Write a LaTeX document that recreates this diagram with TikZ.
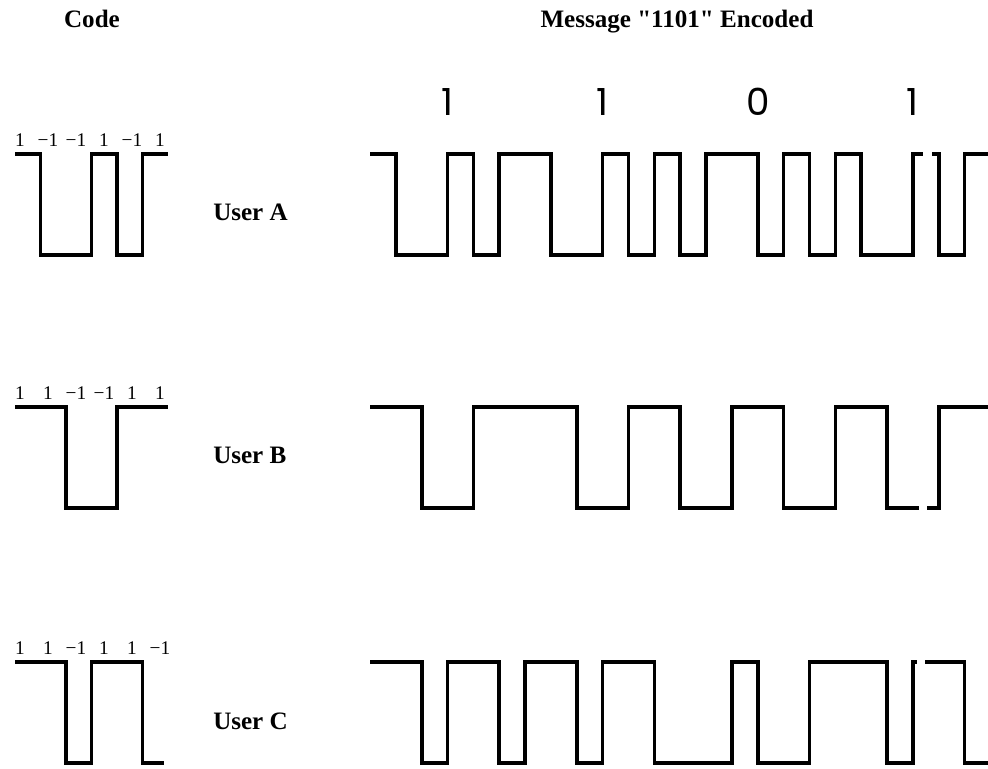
\documentclass[tikz,border=0pt]{standalone}
\usepackage{fontspec}
\setmainfont{Liberation Serif}
\newfontfamily\bitfont{Poppins}

\begin{document}
\begin{tikzpicture}[
    x=0.75pt, y=-0.75pt,
    % Text styles
    header/.style={font=\fontsize{18.8}{22}\selectfont\bfseries, anchor=base, inner sep=0pt},
    userlabel/.style={font=\fontsize{18.8}{22}\selectfont\bfseries, anchor=base west, inner sep=0pt},
    codelabel/.style={font=\fontsize{14.5}{16}\selectfont, anchor=base, inner sep=0pt},
    bitlabel/.style={font=\bitfont\fontsize{28}{32}\selectfont, anchor=base, inner sep=0pt},
    % Line styles
    wave/.style={line width=2.7pt, line join=miter},
]

    \useasboundingbox (0,0) rectangle (988,768);

    % Headers
    \node[header] (code) at (92,27) {Code};
    \node[header] (msg) at (677,27) {Message \textquotedbl1101\textquotedbl{} Encoded};

    % Message bits
    \foreach \b [count=\i] in {1,1,0,1}
        \node[bitlabel] (bit\i) at ({370+25.85*(6*\i-3)},115) {\b};

    % Chip values of each code
    \foreach \c [count=\i] in {1,−1,−1,1,−1,1}
        \node[codelabel] (ca\i) at ({20+28*(\i-1)},146) {\c};
    \foreach \c [count=\i] in {1,1,−1,−1,1,1}
        \node[codelabel] (cb\i) at ({20+28*(\i-1)},399) {\c};
    \foreach \c [count=\i] in {1,1,−1,1,1,−1}
        \node[codelabel] (cc\i) at ({20+28*(\i-1)},654) {\c};

    % Users
    \node[userlabel] (usera) at (213,220) {User A};
    \node[userlabel] (userb) at (213,463) {User B};
    \node[userlabel] (userc) at (213,729) {User C};

    % Code waveforms (one unit = one chip)
    \begin{scope}[shift={(15,0)}, x=19.125pt]
        \draw[wave] (0,154) -| (1,255) -| (3,154) -| (4,255) -| (5,154) -- (6,154);
        \draw[wave] (0,407) -| (2,508) -| (4,407) -- (6,407);
        \draw[wave] (0,662) -| (2,763) -| (3,662) -| (5,763) -- (5.85,763);
    \end{scope}

    % Encoded waveforms
    \begin{scope}[shift={(370,0)}, x=19.3875pt]
        % User A
        \draw[wave] (0,154) -| (1,255) -| (3,154) -| (4,255) -| (5,154) -| (7,255)
            -| (9,154) -| (10,255) -| (11,154) -| (12,255) -| (13,154) -| (15,255)
            -| (16,154) -| (17,255) -| (18,154) -| (19,255) -| (21,154) -- (21.4,154)
            (21.75,154) -| (22,255) -| (23,154) -- (23.95,154);
        % User B
        \draw[wave] (0,407) -| (2,508) -| (4,407) -| (8,508) -| (10,407) -| (12,508)
            -| (14,407) -| (16,508) -| (18,407) -| (20,508) -- (21.24,508)
            (21.55,508) -| (22,407) -- (23.95,407);
        % User C
        \draw[wave] (0,662) -| (2,763) -| (3,662) -| (5,763) -| (6,662) -| (8,763)
            -| (9,662) -| (11,763) -| (14,662) -| (15,763) -| (17,662) -| (20,763)
            -| (21,662) -- (21.15,662)
            (21.47,662) -| (23,763) -- (23.95,763);
    \end{scope}

\end{tikzpicture}
\end{document}
